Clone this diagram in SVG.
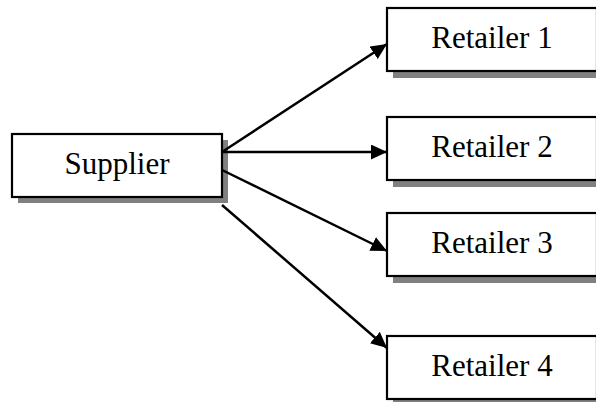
<svg xmlns="http://www.w3.org/2000/svg" width="596" height="402" viewBox="0 0 596 402">
<defs>
<style>
.box{fill:#fff;stroke:#000;stroke-width:2.2}
.sh{fill:#808080}
.t{font-family:"Liberation Serif","Times New Roman",serif;font-size:31px;fill:#000;text-anchor:middle}
.c{stroke:#000;stroke-width:2.5;fill:none;marker-end:url(#ah)}
</style>
<marker id="ah" markerUnits="userSpaceOnUse" markerWidth="17" markerHeight="15" refX="16" refY="7.5" orient="auto">
<path d="M0,0 L16,7.5 L0,15 Z" fill="#000"/>
</marker>
</defs>
<rect width="596" height="402" fill="#fff"/>
<g id="supplier">
<rect class="sh" x="18" y="140" width="210" height="63"/>
<rect class="box" x="12" y="134" width="210" height="63"/>
<text class="t" x="117" y="174">Supplier</text>
</g>
<g id="retailer1">
<rect class="sh" x="393" y="15" width="210" height="63"/>
<rect class="box" x="387" y="8" width="210" height="63"/>
<text class="t" x="492" y="48">Retailer 1</text>
</g>
<g id="retailer2">
<rect class="sh" x="393" y="124" width="210" height="63"/>
<rect class="box" x="387" y="117" width="210" height="63"/>
<text class="t" x="492" y="157">Retailer 2</text>
</g>
<g id="retailer3">
<rect class="sh" x="393" y="220" width="210" height="63"/>
<rect class="box" x="387" y="213" width="210" height="63"/>
<text class="t" x="492" y="253">Retailer 3</text>
</g>
<g id="retailer4">
<rect class="sh" x="393" y="343" width="210" height="63"/>
<rect class="box" x="387" y="336" width="210" height="63"/>
<text class="t" x="492" y="376">Retailer 4</text>
</g>
<g id="connectors">
<line class="c" x1="222" y1="152" x2="387" y2="44"/>
<line class="c" x1="222" y1="152" x2="387" y2="152"/>
<line class="c" x1="222" y1="170" x2="387" y2="251"/>
<line class="c" x1="222" y1="205" x2="387" y2="348"/>
</g>
</svg>
